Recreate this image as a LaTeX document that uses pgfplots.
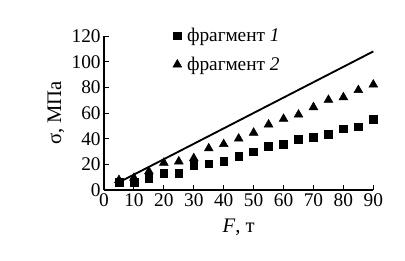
\documentclass[border=0pt]{standalone}
\usepackage{fontspec}
\setmainfont{Liberation Serif}
\usepackage{pgfplots}
\pgfplotsset{compat=1.18}
\begin{document}
\begin{tikzpicture}
\begin{axis}[
  at={(0,0)}, anchor=south west,
  width=202pt, height=115.5pt, scale only axis,
  xmin=0, xmax=90, ymin=0, ymax=120,
  axis lines*=left,
  axis line style={line width=0.8pt},
  tick align=inside,
  major tick length=3.75pt,
  tick style={black, line width=0.7pt},
  xtick={0,10,...,90}, ytick={0,20,...,120},
  /pgf/number format/assume math mode=true,
  ticklabel style={font=\fontsize{14.5}{16}\selectfont},
  xticklabel style={yshift=1pt},
  yticklabel style={xshift=1pt},
  xlabel={\textit{F}, т},
  ylabel={σ, МПа},
  label style={font=\fontsize{15.5}{17}\selectfont},
  xlabel style={at={(axis description cs:0.5,-0.24)}, anchor=center},
  ylabel style={at={(axis description cs:-0.178,0.5)}, anchor=center},
  clip=false,
  legend style={draw=none, fill=none, at={(axis description cs:0.255,1.07)}, anchor=north west,
    font=\fontsize{14.5}{16}\selectfont, row sep=6pt, inner sep=0pt,
    /tikz/every even column/.append style={column sep=3pt}},
  legend cell align=left,
]
\addplot[only marks, mark=square*, mark size=2.9pt, black] coordinates {
(5,5.9) (10,5.9) (15,8.9) (20,12.8) (25,12.8) (30,19.1) (35,20.4) (40,22.2) (45,26.3)
(50,29.8) (55,33.9) (60,35.7) (65,39.5) (70,41.3) (75,43.4) (80,47.7) (85,49.2) (90,55.4)};
\addlegendentry{\hspace{2pt}фрагмент \textit{1}}
\addplot[only marks, mark=triangle*, mark size=3.8pt, black] coordinates {
(5,7.7) (10,9.4) (15,14.5) (20,21.2) (25,22.2) (30,24.7) (35,32.4) (40,35.7) (45,40)
(50,44.6) (55,51) (60,55.4) (65,58.7) (70,64.5) (75,70.2) (80,72.2) (85,77.8) (90,82.1)};
\addlegendentry{\hspace{2pt}фрагмент \textit{2}}
\addplot[black, line width=1.4pt, forget plot] coordinates {(5,6) (90,108)};
\end{axis}
\path[use as bounding box] (-78pt,-53.25pt) rectangle (225.75pt,142.5pt);
\end{tikzpicture}
\end{document}
